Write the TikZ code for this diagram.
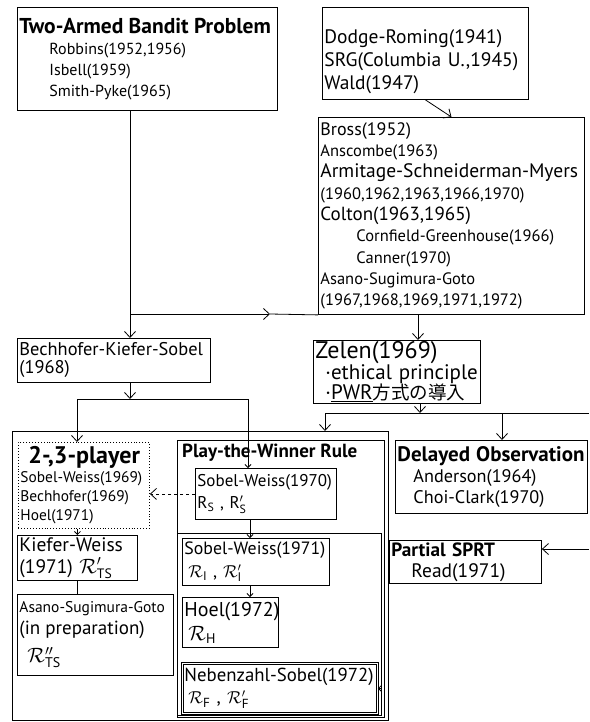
\documentclass[tikz,border=0pt]{standalone}
\usepackage{fontspec}
\setmainfont{PT Sans}
\newfontfamily\jpfont{Noto Sans CJK JP}
\usetikzlibrary{arrows.meta}
\tikzstyle{box}=[draw, line width=0.9pt, anchor=north west, align=left, inner xsep=2pt, inner ysep=1pt, font=\fontsize{16}{21}\selectfont]
\tikzstyle{frame}=[draw, line width=0.9pt, anchor=north west, inner sep=0pt]
\tikzstyle{title}=[anchor=north west, inner sep=0pt, font=\bfseries\fontsize{19}{20}\selectfont]
\tikzstyle{link}=[line width=0.8pt]
\tikzstyle{tip}=[-{Straight Barb[length=6pt,width=11pt]}]
\tikzstyle{small tip}=[-{Straight Barb[length=3pt,width=6pt]}]
\newcommand{\boxnode}{\node[box]}
\newcommand{\sz}[2]{\fontsize{#1}{#2}\selectfont}

\begin{document}
\begin{tikzpicture}[x=1pt,y=-1pt]
  \useasboundingbox (0,0) rectangle (589,722);
  % top row
  \boxnode[text width=256, minimum height=103](bandit) at (17,7)
    {{\bfseries\sz{21.5}{24}Two-Armed Bandit Problem}\\
     \hspace*{30pt}Robbins(1952,1956)\\
     \hspace*{30pt}Isbell(1959)\\
     \hspace*{30pt}Smith-Pyke(1965)};
  \boxnode[text width=202, minimum height=92, font=\sz{19.5}{23}](dodge) at (322,7)
    {\rule{0pt}{30pt}Dodge-Roming(1941)\\SRG(Columbia U.,1945)\\Wald(1947)};
  \boxnode[text width=262, minimum height=197, font=\sz{16.5}{21.3}](bross) at (318,117)
    {{\sz{18}{21}Bross(1952)}\\Anscombe(1963)\\{\sz{19.5}{21}Armitage-Schneiderman-Myers}\\
     (1960,1962,1963,1966,1970)\\{\sz{19}{21}Colton(1963,1965)}\\
     \hspace*{36pt}Cornfield-Greenhouse(1966)\\\hspace*{36pt}Canner(1970)\\
     Asano-Sugimura-Goto\\(1967,1968,1969,1971,1972)};
  % middle row
  \boxnode[text width=189, minimum height=44, font=\sz{18.4}{18}](bks) at (17,338)
    {Bechhofer-Kiefer-Sobel\\(1968)};
  \boxnode[text width=163, minimum height=63, font=\sz{21}{20}](zelen) at (313,340)
    {{\sz{24}{22}Zelen(1969)}\\
     \hspace*{10pt}·ethical principle\\
     \hspace*{10pt}·\underline{PWR}{\jpfont\sz{18.5}{20}方式の導入}};
  % lower part
  \node[frame, minimum width=376, minimum height=289](outer) at (12,431) {};
  \node[frame, minimum width=207, minimum height=277](pwr) at (177,440) {};
  \node[title] (pwrtitle) at (182,444) {Play-the-Winner Rule};
  \node[frame, minimum width=204, minimum height=182](inner) at (177,533) {};
  \boxnode[dotted, text width=127, minimum height=86, font=\sz{15.4}{19}](two3) at (18,442)
    {{\bfseries\sz{24}{24}\hspace*{8pt}2-,3-player}\\
     Sobel-Weiss(1969)\\Bechhofer(1969)\\Hoel(1971)};
  \boxnode[text width=137, minimum height=51, font=\sz{17}{22}](sw70) at (195,468)
    {Sobel-Weiss(1970)\\R$_{\mathrm{S}}$ , R$'_{\mathrm{S}}$};
  \boxnode[text width=143, minimum height=47, font=\sz{17.8}{23}](sw71) at (182,538)
    {Sobel-Weiss(1971)\\\hspace*{4pt}$\mathcal{R}_{\mathrm{I}}$ , $\mathcal{R}'_{\mathrm{I}}$};
  \boxnode[text width=92, minimum height=50, font=\sz{20}{24}](hoel) at (182,597)
    {Hoel(1972)\\\hspace*{4pt}$\mathcal{R}_{\mathrm{H}}$};
  \boxnode[double, double distance=1.2pt, text width=191, minimum height=50, font=\sz{18.8}{22}](neben) at (182,663)
    {Nebenzahl-Sobel(1972)\\\hspace*{4pt}$\mathcal{R}_{\mathrm{F}}$ , $\mathcal{R}'_{\mathrm{F}}$};
  \boxnode[text width=116, minimum height=45, font=\sz{19.5}{22}](kw) at (17,535)
    {Kiefer-Weiss\\(1971) $\mathcal{R}'_{\mathrm{TS}}$};
  \boxnode[text width=152, minimum height=81, font=\sz{15.5}{22}](asg) at (17,594)
    {Asano-Sugimura-Goto\\{\sz{19}{22}(in preparation)}\\[6pt]\hspace*{8pt}{\sz{20}{22}$\mathcal{R}''_{\mathrm{TS}}$}};
  \boxnode[text width=188, minimum height=73, font=\sz{18.2}{21}](delayed) at (395,440)
    {{\bfseries\sz{21}{23}Delayed Observation}\\
     \hspace*{16pt}Anderson(1964)\\\hspace*{16pt}Choi-Clark(1970)};
  \boxnode[text width=148, minimum height=43, font=\sz{19.5}{21}](sprt) at (389,540)
    {{\bfseries\sz{19.2}{21}Partial SPRT}\\\hspace*{20pt}Read(1971)};
  % connectors
  \coordinate (split) at (130,314);
  \coordinate (mid) at (270,314);
  \coordinate (zin) at (418,314);
  \draw[link,tip] (bandit.south -| split) -- (bks.north -| split);
  \draw[link,tip] (split) -- (mid);
  \draw[link] (mid) -- (bross.south west);
  \draw[link,tip] (dodge.south) -- (bross.north);
  \draw[link,tip] (zin) -- (zin |- zelen.north);
  \coordinate (fork) at (130,399);
  \coordinate (forkl) at (77,399);
  \coordinate (forkr) at (248,399);
  \draw[link,tip] (bks.south -| fork) -- (fork);
  \draw[link] (forkl) -- (forkr);
  \draw[link,tip] (forkl) -- (forkl |- two3.north);
  \draw[link,small tip] (forkr) -- (forkr |- sw70.north);
  \coordinate (zout) at (420,413);
  \coordinate (zl) at (325,413);
  \coordinate (zr) at (589,413);
  \coordinate (dl) at (502,413);
  \draw[link,tip] (zelen.south -| zout) -- (zout);
  \draw[link] (zl) -- (zr);
  \draw[link,tip] (zl) -- (zl |- outer.north);
  \draw[link,tip] (dl) -- (dl |- delayed.north);
  \coordinate (sprtin) at (589,549);
  \draw[link,tip] (sprtin) -- (sprtin -| sprt.east);
  \draw[link,dashed,tip] (sw70.west) -- (sw70.west -| two3.east);
  \coordinate (pcol) at (250,560);
  \draw[link,small tip] (sw70.south -| pcol) -- (sw71.north -| pcol);
  \draw[link,small tip] (sw71.south -| pcol) -- (hoel.north -| pcol);
  \draw[link,small tip] (two3.south -| kw.north) -- (kw.north);
  \draw[link] (kw.south) -- (kw.south |- asg.north);
  \draw[link,small tip] (inner.east |- neben.east) -- (neben.east);
\end{tikzpicture}
\end{document}
